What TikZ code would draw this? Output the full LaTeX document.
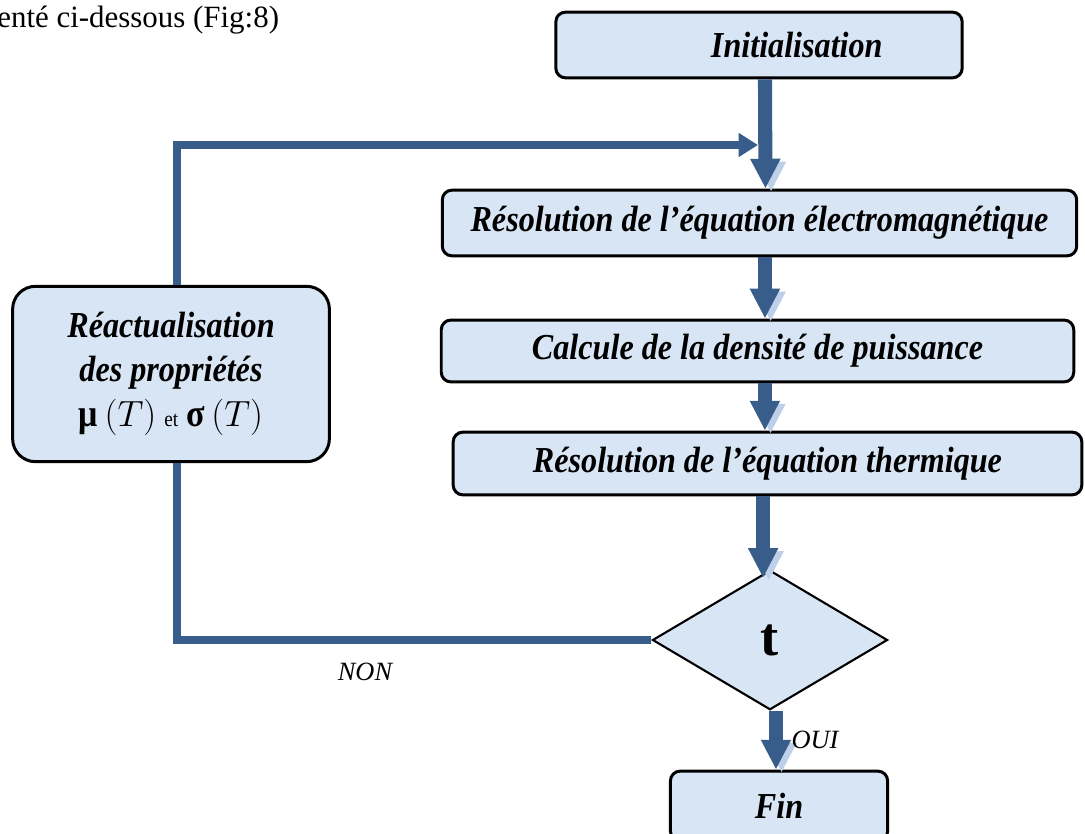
\documentclass[tikz,border=0pt]{standalone}
\usepackage{fontspec}
\setmainfont{Liberation Serif}
\newfontfamily\boxfont{Liberation Serif}[FakeStretch=0.88]
\usetikzlibrary{positioning, shapes.geometric, arrows.meta}
\definecolor{steel}{RGB}{56,93,138}
\definecolor{haze}{RGB}{190,208,233}
\definecolor{frost}{RGB}{216,229,244}

\begin{document}
\begin{tikzpicture}[
  x=0.02cm, y=-0.02cm,
  every node/.style={inner sep=1mm},
  proc box/.style={
    draw=black,
    line width=1.7pt,
    fill=frost,
    rounded corners=5.5pt,
    font=\boxfont\bfseries\itshape\fontsize{20.8}{25}\selectfont
  },
  test box/.style={
    diamond,
    aspect=1.7,
    draw=black,
    line width=1.2pt,
    fill=frost,
    inner sep=0pt,
    minimum width=133.8pt,
    minimum height=79.4pt,
    font=\bfseries\fontsize{31}{33}\selectfont
  },
  flow arrow/.style={
    -{Triangle[length=17pt, width=16pt]},
    line width=8pt,
    draw=steel,
    preaction={draw=haze, transform canvas={shift={(3.2pt,-1.7pt)}}}
  },
  loop line/.style={
    line width=4.3pt,
    draw=steel
  },
  loop arrow/.style={
    loop line,
    -{Triangle[length=11pt, width=13pt]}
  },
  note/.style={font=\itshape\fontsize{15}{17}\selectfont}
]
\useasboundingbox (0,0) rectangle (1085,834);

% text cut from the page
\node(cap)[anchor=base west, inner sep=0pt, font=\fontsize{17.6}{20}\selectfont] at (-3,28) {enté ci-dessous (Fig:8)};

% main column
\node(init)[proc box, minimum width=231.3pt, minimum height=37.4pt] at (759,45) {\hspace*{43pt}Initialisation};
\node(elec)[proc box, minimum width=361.1pt, minimum height=37.4pt] at (759.5,223) {Résolution de l’équation électromagnétique};
\node(calc)[proc box, minimum width=360pt, minimum height=35.2pt] at (757.5,351) {Calcule de la densité de puissance};
\node(therm)[proc box, minimum width=357.8pt, minimum height=35.7pt] at (767.5,463.5) {Résolution de l’équation thermique};
\node(test)[test box] at (770,640) {t};
\node(fin)[proc box, minimum width=123.6pt, minimum height=39.7pt] at (779,806) {Fin};

% feedback
\node(upd)[proc box, rounded corners=13pt, minimum width=180.3pt, minimum height=99.8pt, align=center] at (171,374)
  {Réactualisation\\des propriétés\\[1pt]
   {\upshape\fontsize{22}{24}\selectfont μ\,$\big(T\big)$} {\mdseries\upshape\fontsize{12.5}{14}\selectfont et} {\upshape\fontsize{22}{24}\selectfont σ\,$\big(T\big)$}};

\coordinate(back) at (758,145);

\draw[flow arrow] ([xshift=3.4pt]init.south) -- ([xshift=3.4pt]elec.north);
\draw[flow arrow] ([xshift=3.1pt]elec.south) -- ([xshift=3.1pt]elec.south |- calc.north);
\draw[flow arrow] ([xshift=4.2pt]calc.south) -- ([xshift=4.2pt]calc.south |- therm.north);
\draw[flow arrow, shorten >=-5pt] ([xshift=-2.5pt]therm.south) -- ([xshift=-2.5pt]therm.south |- test.north);
\draw[flow arrow] ([xshift=3.4pt]test.south) -- ([xshift=3.4pt]test.south |- fin.north);

\draw[loop line] (test.west) -| ([xshift=3.4pt]upd.south);
\draw[loop arrow] ([xshift=3.4pt]upd.north) |- (back);

\node(non)[note] at (365,672) {NON};
\node(oui)[note] at (815,740) {OUI};

\end{tikzpicture}
\end{document}
